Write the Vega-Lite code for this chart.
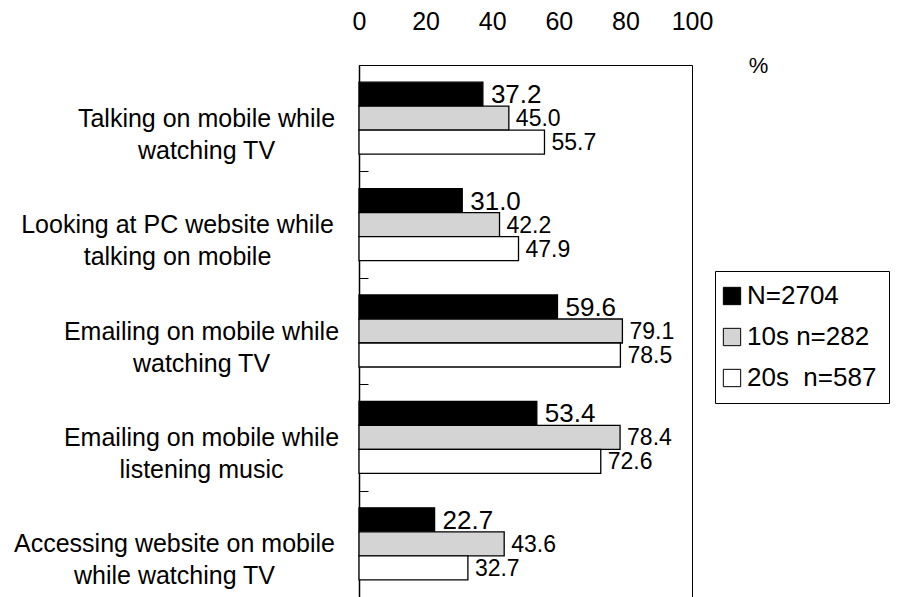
{
  "$schema": "https://vega.github.io/schema/vega-lite/v6.json",
  "width": 333,
  "height": 532,
  "autosize": {"type": "none"},
  "padding": {"left": 359, "top": 65, "right": 211, "bottom": 0},
  "background": "white",
  "config": {
    "view": {"stroke": "black", "strokeWidth": 1},
    "font": "Liberation Sans"
  },
  "data": {
    "values": [
      {"cat": "Talking on mobile while|watching TV", "series": "N=2704", "value": 37.2},
      {"cat": "Talking on mobile while|watching TV", "series": "10s n=282", "value": 45.0},
      {"cat": "Talking on mobile while|watching TV", "series": "20s\u00a0 n=587", "value": 55.7},
      {"cat": "Looking at PC website while|talking on mobile", "series": "N=2704", "value": 31.0},
      {"cat": "Looking at PC website while|talking on mobile", "series": "10s n=282", "value": 42.2},
      {"cat": "Looking at PC website while|talking on mobile", "series": "20s\u00a0 n=587", "value": 47.9},
      {"cat": "Emailing on mobile while|watching TV", "series": "N=2704", "value": 59.6},
      {"cat": "Emailing on mobile while|watching TV", "series": "10s n=282", "value": 79.1},
      {"cat": "Emailing on mobile while|watching TV", "series": "20s\u00a0 n=587", "value": 78.5},
      {"cat": "Emailing on mobile while|listening music", "series": "N=2704", "value": 53.4},
      {"cat": "Emailing on mobile while|listening music", "series": "10s n=282", "value": 78.4},
      {"cat": "Emailing on mobile while|listening music", "series": "20s\u00a0 n=587", "value": 72.6},
      {"cat": "Accessing website on mobile|while watching TV", "series": "N=2704", "value": 22.7},
      {"cat": "Accessing website on mobile|while watching TV", "series": "10s n=282", "value": 43.6},
      {"cat": "Accessing website on mobile|while watching TV", "series": "20s\u00a0 n=587", "value": 32.7}
    ]
  },
  "encoding": {
    "y": {
      "field": "cat",
      "type": "nominal",
      "sort": null,
      "scale": {"paddingInner": 0, "paddingOuter": 0},
      "axis": {
        "title": null,
        "labelExpr": "split(datum.label, '|')",
        "labelAlign": "center",
        "labelBaseline": "middle",
        "labelFont": "Liberation Sans",
        "labelFontSize": 25,
        "labelLineHeight": 32,
        "labelColor": "black",
        "labelLimit": 0,
        "labelPadding": {"expr": "datum.value == 'Talking on mobile while|watching TV' ? 162 : datum.value == 'Looking at PC website while|talking on mobile' ? 191 : datum.value == 'Accessing website on mobile|while watching TV' ? 194 : 167"},
        "tickBand": "extent",
        "tickSize": -9,
        "tickColor": "black",
        "tickWidth": 1,
        "domainColor": "black",
        "domainWidth": 1.5
      }
    },
    "x": {
      "field": "value",
      "type": "quantitative",
      "scale": {"domain": [0, 100]},
      "axis": {
        "orient": "top",
        "values": [0, 20, 40, 60, 80, 100],
        "ticks": false,
        "domain": false,
        "grid": false,
        "labelFont": "Liberation Sans",
        "labelFontSize": 25,
        "labelColor": "black",
        "labelPadding": 31,
        "labelFlush": false,
        "labelOverlap": false,
        "title": "%",
        "titleFont": "Liberation Sans",
        "titleFontSize": 22,
        "titleFontWeight": "normal",
        "titleColor": "black",
        "titleX": 399,
        "titleY": 7,
        "titleAlign": "center",
        "titleBaseline": "alphabetic",
        "titleAngle": 0
      }
    },
    "yOffset": {
      "field": "series",
      "sort": ["N=2704", "10s n=282", "20s\u00a0 n=587"],
      "scale": {"paddingInner": 0, "paddingOuter": 0.717}
    }
  },
  "layer": [
    {
      "mark": {"type": "bar", "stroke": "black", "strokeWidth": 1.3},
      "encoding": {
        "fill": {
          "field": "series",
          "type": "nominal",
          "scale": {
            "domain": ["N=2704", "10s n=282", "20s\u00a0 n=587"],
            "range": ["#000000", "#d4d4d4", "#ffffff"]
          },
          "legend": {
            "title": null,
            "orient": "none",
            "legendX": 356,
            "legendY": 206,
            "symbolType": "square",
            "symbolSize": 300,
            "symbolStrokeColor": "black",
            "symbolStrokeWidth": 1,
            "symbolOpacity": 1,
            "symbolOffset": -8,
            "labelFont": "Liberation Sans",
            "labelFontSize": 26,
            "labelColor": "black",
            "labelOffset": 2,
            "labelLimit": 0,
            "rowPadding": 15,
            "padding": 12,
            "strokeColor": "black",
            "fillColor": "white"
          }
        }
      }
    },
    {
      "transform": [{"filter": "datum.series == 'N=2704'"}],
      "mark": {
        "type": "text",
        "align": "left",
        "baseline": "middle",
        "dx": 8,
        "dy": 1,
        "font": "Liberation Sans",
        "fontSize": 26,
        "color": "black"
      },
      "encoding": {
        "text": {"field": "value", "type": "quantitative", "format": ".1f"}
      }
    },
    {
      "transform": [{"filter": "datum.series != 'N=2704'"}],
      "mark": {
        "type": "text",
        "align": "left",
        "baseline": "middle",
        "dx": 7,
        "dy": 1,
        "font": "Liberation Sans",
        "fontSize": 23,
        "color": "black"
      },
      "encoding": {
        "text": {"field": "value", "type": "quantitative", "format": ".1f"}
      }
    }
  ]
}
